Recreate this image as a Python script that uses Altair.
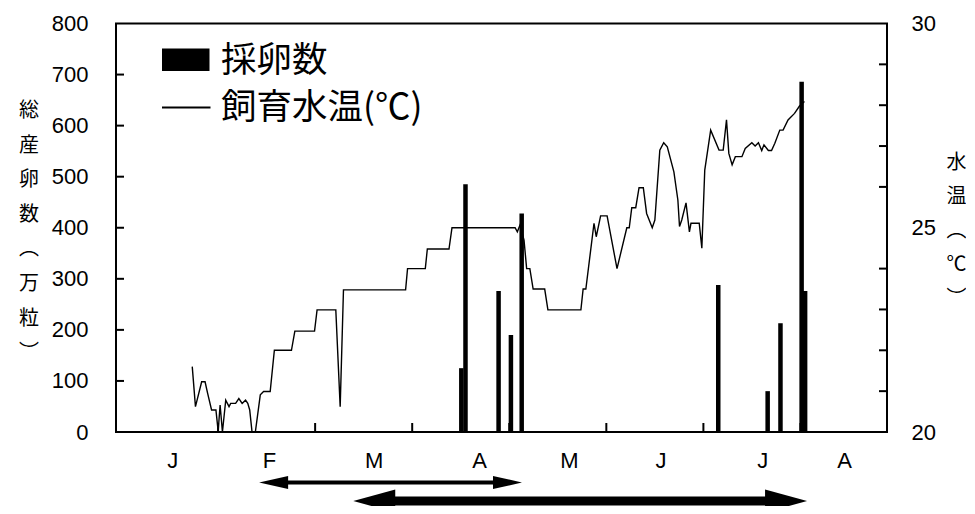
import altair as alt
import pandas as pd

# ---------------- data ----------------
month_labels = ["J", "F", "M", "A", "M", "J", "J", "A"]
month_label_pos = [0.534, 1.529, 2.607, 3.694, 4.619, 5.564, 6.611, 7.454]
month_ticks = [1, 2, 3, 4, 5, 6, 7]

temp_m = [0.734, 0.767, 0.831, 0.866, 0.892, 0.933, 0.978, 1.001, 1.021, 1.045,
          1.079, 1.113, 1.130, 1.181, 1.214, 1.248, 1.283, 1.306, 1.326, 1.350,
          1.384, 1.435, 1.469, 1.537, 1.580, 1.756, 1.791, 1.994, 2.020, 2.213,
          2.258, 2.292, 2.932, 2.952, 3.135, 3.156, 3.379, 3.410, 4.060, 4.083,
          4.111, 4.152, 4.179, 4.212, 4.246, 4.365, 4.398, 4.738, 4.761, 4.789,
          4.873, 4.896, 4.941, 5.008, 5.110, 5.211, 5.236, 5.262, 5.303, 5.337,
          5.381, 5.415, 5.473, 5.500, 5.551, 5.591, 5.628, 5.696, 5.737, 5.754,
          5.777, 5.821, 5.856, 5.872, 5.957, 5.984, 6.014, 6.075, 6.161, 6.204,
          6.238, 6.262, 6.296, 6.329, 6.397, 6.431, 6.499, 6.533, 6.567, 6.601,
          6.624, 6.669, 6.702, 6.736, 6.787, 6.821, 6.872, 6.939, 6.990, 7.041]
temp_c = [21.60, 20.62, 21.23, 21.23, 20.95, 20.54, 20.54, 20.02, 20.66, 20.0,
          20.78, 20.62, 20.70, 20.70, 20.82, 20.70, 20.78, 20.70, 20.54, 20.0,
          20.0, 20.91, 20.99, 20.99, 22.0, 22.0, 22.47, 22.47, 22.99, 22.99,
          20.62, 23.48, 23.48, 24.0, 24.0, 24.48, 24.48, 25.0, 25.0, 24.90,
          25.07, 24.70, 24.0, 24.0, 23.50, 23.50, 22.99, 22.99, 23.50, 23.50,
          25.11, 24.78, 25.29, 25.29, 24.0, 25.0, 25.0, 25.49, 25.49, 25.98,
          25.98, 25.35, 25.0, 25.19, 26.90, 27.08, 26.98, 26.37, 25.68, 25.03,
          25.19, 25.61, 24.90, 25.11, 25.11, 24.50, 26.41, 27.39, 26.90, 26.90,
          27.64, 26.82, 26.54, 26.74, 26.74, 26.94, 27.08, 27.0, 27.08, 26.89,
          27.03, 26.89, 26.89, 27.07, 27.39, 27.39, 27.64, 27.80, 27.98, 28.09]

egg_m = [3.506, 3.549, 3.890, 4.017, 4.128, 6.153, 6.662, 6.794, 7.012, 7.048]
egg_n = [125, 485, 276, 190, 428, 288, 80, 213, 686, 276]

egg_ticks = [100, 200, 300, 400, 500, 600, 700]
temp_ticks = [21, 22, 23, 24, 26, 27, 28, 29]

arrow_start = [1.423, 2.393]
arrow_end = [4.131, 7.068]

legend_labels = ["採卵数", "飼育水温(℃)"]
left_title = ["総", "産", "卵", "数", "︵", "万", "粒", "︶"]
right_title = ["水", "温", "︵", "℃", "︶"]

# ---------------- layout ----------------
W = 771
H = 408.5
NUM_FONT = "Liberation Sans"
CJK_FONT = "Noto Sans CJK JP"

xscale = alt.Scale(domain=[0, 7.84], nice=False, zero=False)
escale = alt.Scale(domain=[0, 800], nice=False, zero=False)
tscale = alt.Scale(domain=[20, 30], nice=False, zero=False)

left_axis = alt.Axis(values=[0, 100, 200, 300, 400, 500, 600, 700, 800], ticks=False,
                     domain=False, grid=False, labelFont=NUM_FONT, labelFontSize=22,
                     labelColor="black", labelPadding=28,
                     title=left_title, titleAngle=0, titleAlign="center",
                     titleBaseline="middle", titleX=-87.5, titleY=87,
                     titleFont=CJK_FONT, titleFontSize=20, titleFontWeight="normal",
                     titleLineHeight=34.6, titleColor="black")
right_axis = alt.Axis(orient="right", values=[20, 25, 30], ticks=False, domain=False,
                      grid=False, labelFont=NUM_FONT, labelFontSize=22,
                      labelColor="black", labelPadding=24,
                      title=right_title, titleAngle=0, titleAlign="center",
                      titleBaseline="middle", titleX=69, titleY=139,
                      titleFont=CJK_FONT, titleFontSize=20, titleFontWeight="normal",
                      titleLineHeight=34, titleColor="black")

eggs_df = pd.DataFrame({"m": egg_m, "n": egg_n})
temp_df = pd.DataFrame({"m": temp_m, "t": temp_c, "i": list(range(len(temp_m)))})
etick_df = pd.DataFrame({"n": egg_ticks})
ttick_df = pd.DataFrame({"t": temp_ticks})
mtick_df = pd.DataFrame({"m": month_ticks})
mlab_df = pd.DataFrame({"m": month_label_pos, "lab": month_labels})
arrow_df = pd.DataFrame({"s": arrow_start, "e": arrow_end})

# --- eggs (left scale) layer ---
bars = alt.Chart(eggs_df).mark_bar(size=4.5, color="black").encode(
    x=alt.X("m:Q", scale=xscale, axis=None),
    y=alt.Y("n:Q", scale=escale, axis=left_axis),
)
left_ticks = alt.Chart(etick_df).mark_rule(color="black", strokeWidth=2).encode(
    y=alt.Y("n:Q", scale=escale, axis=left_axis),
    x=alt.value(0), x2=alt.value(8),
)
bottom_ticks = alt.Chart(mtick_df).mark_rule(color="black", strokeWidth=2).encode(
    x=alt.X("m:Q", scale=xscale, axis=None),
    y=alt.value(H), y2=alt.value(H - 9),
)
month_text = alt.Chart(mlab_df).mark_text(font=NUM_FONT, fontSize=22, color="black",
                                          baseline="middle", align="center").encode(
    x=alt.X("m:Q", scale=xscale, axis=None),
    y=alt.value(437), text="lab:N",
)

a1 = arrow_df.iloc[[0]]
a2 = arrow_df.iloc[[1]]
Y1 = 459
Y2 = 477.5
shaft1 = alt.Chart(a1).mark_rule(color="black", strokeWidth=4, xOffset=20, x2Offset=-20).encode(
    x=alt.X("s:Q", scale=xscale, axis=None), x2="e:Q", y=alt.value(Y1))
shaft2 = alt.Chart(a2).mark_rule(color="black", strokeWidth=9, xOffset=30, x2Offset=-30).encode(
    x=alt.X("s:Q", scale=xscale, axis=None), x2="e:Q", y=alt.value(Y2))
head1l = alt.Chart(a1).mark_point(shape="M0,0L2,-0.45L2,0.45Z", size=841, filled=True,
                                  color="black", opacity=1).encode(
    x=alt.X("s:Q", scale=xscale, axis=None), y=alt.value(Y1))
head1r = alt.Chart(a1).mark_point(shape="M0,0L-2,-0.45L-2,0.45Z", size=841, filled=True,
                                  color="black", opacity=1).encode(
    x=alt.X("e:Q", scale=xscale, axis=None), y=alt.value(Y1))
head2l = alt.Chart(a2).mark_point(shape="M0,0L2,-0.55L2,0.55Z", size=1764, filled=True,
                                  color="black", opacity=1).encode(
    x=alt.X("s:Q", scale=xscale, axis=None), y=alt.value(Y2))
head2r = alt.Chart(a2).mark_point(shape="M0,0L-2,-0.55L-2,0.55Z", size=1764, filled=True,
                                  color="black", opacity=1).encode(
    x=alt.X("e:Q", scale=xscale, axis=None), y=alt.value(Y2))

leg_df1 = pd.DataFrame({"lab": [legend_labels[0]]})
leg_df2 = pd.DataFrame({"lab": [legend_labels[1]]})
leg_rect = alt.Chart(leg_df1).mark_rect(color="black").encode(
    x=alt.value(46), x2=alt.value(93.5), y=alt.value(25), y2=alt.value(47.5))
leg_text1 = alt.Chart(leg_df1).mark_text(font=CJK_FONT, fontSize=35.5, align="left",
                                         baseline="middle", color="black").encode(
    x=alt.value(105), y=alt.value(37.5), text="lab:N")
leg_line = alt.Chart(leg_df2).mark_rule(color="black", strokeWidth=1.8).encode(
    x=alt.value(46), x2=alt.value(94.5), y=alt.value(84))
leg_text2 = alt.Chart(leg_df2).mark_text(font=CJK_FONT, fontSize=35.5, align="left",
                                         baseline="middle", color="black").encode(
    x=alt.value(105), y=alt.value(84), text="lab:N")

layer_eggs = alt.layer(left_ticks, bottom_ticks, month_text, shaft1, shaft2,
                       head1l, head1r, head2l, head2r, leg_rect, leg_text1,
                       leg_line, leg_text2, bars)

# --- temperature (right scale) layer ---
line = alt.Chart(temp_df).mark_line(color="black", strokeWidth=1.4).encode(
    x=alt.X("m:Q", scale=xscale, axis=None),
    y=alt.Y("t:Q", scale=tscale, axis=right_axis),
    order="i:Q",
)
right_ticks = alt.Chart(ttick_df).mark_rule(color="black", strokeWidth=2).encode(
    y=alt.Y("t:Q", scale=tscale, axis=right_axis),
    x=alt.value(W - 8), x2=alt.value(W),
)
layer_temp = alt.layer(line, right_ticks)

chart = alt.layer(layer_temp, layer_eggs).resolve_scale(y="independent").properties(
    width=W, height=H,
    autosize=alt.AutoSizeParams(type="none"),
    padding={"left": 108, "top": 15.5, "right": 79, "bottom": 74},
    background="white",
).configure_view(stroke="black", strokeWidth=2)

chart.save("out.html", embed_options={"renderer": "svg", "actions": False})
